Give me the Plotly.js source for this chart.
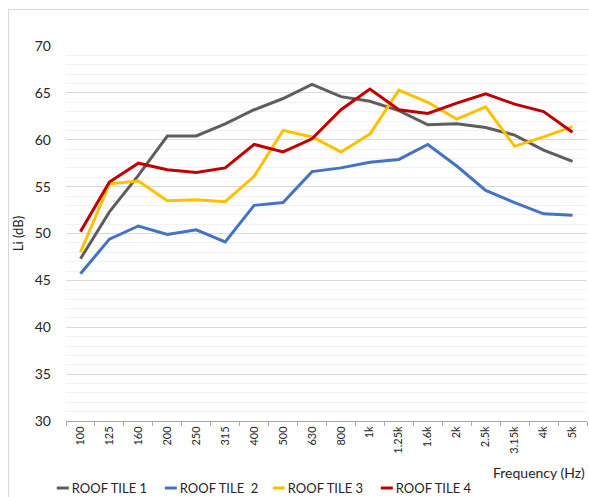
<!DOCTYPE html>
<html>
<head>
<meta charset="utf-8">
<script src="https://cdn.plot.ly/plotly-3.0.1.min.js"></script>
<style>
  html, body { margin: 0; padding: 0; background: #ffffff; overflow: hidden; }
  #chart { position: absolute; left: 0; top: 0; width: 589px; height: 497px; }
  #frame { position: absolute; left: 8px; top: 9px; width: 700px; height: 600px;
           border-left: 1px solid #d9d9d9; border-top: 1px solid #d9d9d9; pointer-events: none; }
</style>
</head>
<body>
<div id="chart"></div>
<div id="frame"></div>
<script>
const frequencies = ["100","125","160","200","250","315","400","500","630","800","1k","1.25k","1.6k","2k","2.5k","3.15k","4k","5k"];
const roofTile1 = [47.3, 52.3, 56.2, 60.4, 60.4, 61.7, 63.2, 64.4, 65.9, 64.6, 64.1, 63.1, 61.6, 61.7, 61.3, 60.5, 58.9, 57.7];
const roofTile2 = [45.7, 49.4, 50.8, 49.9, 50.4, 49.1, 53.0, 53.3, 56.6, 57.0, 57.6, 57.9, 59.5, 57.2, 54.6, 53.3, 52.1, 51.95];
const roofTile3 = [48.0, 55.3, 55.6, 53.5, 53.6, 53.4, 56.1, 61.0, 60.3, 58.7, 60.6, 65.3, 64.0, 62.2, 63.5, 59.3, 60.3, 61.4];
const roofTile4 = [50.2, 55.5, 57.5, 56.8, 56.5, 57.0, 59.5, 58.7, 60.1, 63.2, 65.4, 63.2, 62.8, 63.9, 64.9, 63.8, 63.0, 60.8];
const seriesNames = ["ROOF TILE 1", "ROOF TILE \u00a02", "ROOF TILE 3", "ROOF TILE 4"];
const seriesColors = ["#5e5e5e", "#4472c4", "#ffc000", "#c00000"];
const seriesValues = [roofTile1, roofTile2, roofTile3, roofTile4];

const FONT = "Lato, 'Open Sans', sans-serif";

const traces = seriesValues.map((vals, i) => ({
  type: "scatter",
  mode: "lines",
  x: frequencies,
  y: vals,
  name: seriesNames[i],
  line: { color: seriesColors[i], width: 3 },
  hoverinfo: "x+y+name"
}));

const layout = {
  width: 589,
  height: 497,
  margin: { l: 66, r: 2, t: 46, b: 76 },
  paper_bgcolor: "rgba(0,0,0,0)",
  plot_bgcolor: "rgba(0,0,0,0)",
  font: { family: FONT, color: "#262626", size: 13 },
  showlegend: true,
  legend: {
    orientation: "h",
    xref: "container", yref: "container",
    x: 0.054, xanchor: "left",
    y: 0.018, yanchor: "middle",
    font: { family: FONT, size: 13, color: "#262626" },
    entrywidth: 63, entrywidthmode: "pixels",
    itemwidth: 30,
    bgcolor: "rgba(0,0,0,0)"
  },
  xaxis: {
    type: "category",
    range: [-0.5, 17.5],
    tickangle: -90,
    tickfont: { family: FONT, size: 11, color: "#262626" },
    showgrid: false,
    showline: true,
    linecolor: "#a6a6a6",
    linewidth: 1,
    ticks: "outside",
    ticklen: 4,
    tickcolor: "#a6a6a6",
    tickson: "boundaries",
    zeroline: false,
    fixedrange: true
  },
  yaxis: {
    range: [30, 70],
    dtick: 5,
    tick0: 30,
    tickfont: { family: FONT, size: 14, color: "#262626" },
    showgrid: true,
    gridcolor: "#d9d9d9",
    gridwidth: 1,
    minor: { dtick: 1, showgrid: true, gridcolor: "#f2f2f2", gridwidth: 1 },
    showline: false,
    zeroline: false,
    ticks: "",
    ticklabelstandoff: 14,
    title: { text: "Li (dB)", font: { family: FONT, size: 13, color: "#262626" }, standoff: 8 },
    automargin: false,
    fixedrange: true
  },
  annotations: [{
    text: "Frequency (Hz)",
    xref: "paper", yref: "paper",
    x: 1, xanchor: "right",
    y: -0.136, yanchor: "middle",
    showarrow: false,
    font: { family: FONT, size: 14, color: "#262626" }
  }]
};

// Style-only touch-ups of the legend: short line swatches, no clipping of the last label
function tidyLegend() {
  document.querySelectorAll("#chart .legend .traces path.js-line").forEach(p => {
    p.setAttribute("d", "M25,0h12");
  });
  document.querySelectorAll("#chart .legend [clip-path]").forEach(el => {
    el.removeAttribute("clip-path");
  });
}

Plotly.newPlot("chart", traces, layout, { displayModeBar: false, staticPlot: true })
  .then(gd => { tidyLegend(); gd.on && gd.on("plotly_afterplot", tidyLegend); });
</script>
</body>
</html>
